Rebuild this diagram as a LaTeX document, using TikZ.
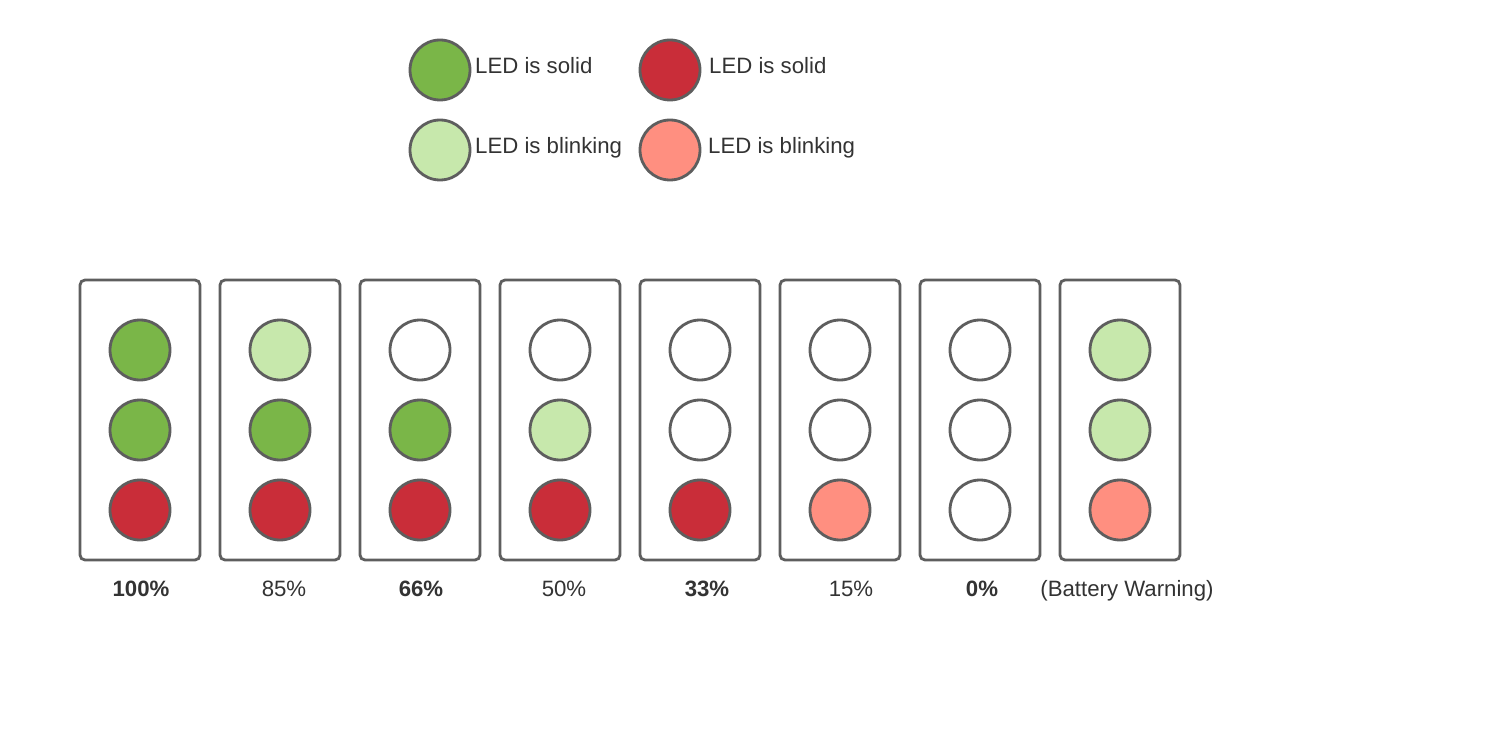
\documentclass[tikz,border=0pt]{standalone}
\usepackage{fontspec}
\setmainfont{Liberation Sans}
\definecolor{strokegray}{HTML}{5E5E5E}
\definecolor{txtgray}{HTML}{333333}
\definecolor{gsolid}{HTML}{7AB648}
\definecolor{gblink}{HTML}{C7E8AC}
\definecolor{rsolid}{HTML}{C92D39}
\definecolor{rblink}{HTML}{FF8F80}
\tikzset{
  led/.style={circle, draw=strokegray, line width=2.8pt, minimum size=60pt, inner sep=0pt},
  gs/.style={led, fill=gsolid},
  gb/.style={led, fill=gblink},
  rs/.style={led, fill=rsolid},
  rb/.style={led, fill=rblink},
  off/.style={led, fill=white},
  panel/.style={draw=strokegray, line width=2.8pt, rounded corners=5pt, minimum width=120pt, minimum height=280pt, inner sep=0pt},
  txt/.style={text=txtgray, font=\fontsize{22.2}{26}\selectfont, inner sep=0pt},
}
\begin{document}
\begin{tikzpicture}[x=1pt,y=-1pt]
\useasboundingbox[fill=white] (0,0) rectangle (1500,730);
% legend
\node[gs] (lgs) at (440,70) {};
\node[gb] (lgb) at (440,150) {};
\node[rs] (lrs) at (670,70) {};
\node[rb] (lrb) at (670,150) {};
\node[txt, anchor=base west] (tgs) at (475,73.5) {LED is solid};
\node[txt, anchor=base west] (tgb) at (475,153.5) {LED is blinking};
\node[txt, anchor=base west] (trs) at (709,73.5) {LED is solid};
\node[txt, anchor=base west] (trb) at (708,153.5) {LED is blinking};
% panels
\foreach \i/\a/\b/\c/\lx/\lab in {
  1/gs/gs/rs/141/\textbf{100\%},
  2/gb/gs/rs/284/85\%,
  3/off/gs/rs/421/\textbf{66\%},
  4/off/gb/rs/564/50\%,
  5/off/off/rs/707/\textbf{33\%},
  6/off/off/rb/851/15\%,
  7/off/off/off/982/\textbf{0\%},
  8/gb/gb/rb/1127/(Battery Warning)}{
  \pgfmathsetmacro{\cx}{140*\i}
  \node[panel] (box\i) at (\cx,420) {};
  \node[\a] (top\i) at (\cx,350) {};
  \node[\b] (mid\i) at (\cx,430) {};
  \node[\c] (bot\i) at (\cx,510) {};
  \node[txt, anchor=base] (lab\i) at (\lx,596) {\lab};
}
\end{tikzpicture}
\end{document}
